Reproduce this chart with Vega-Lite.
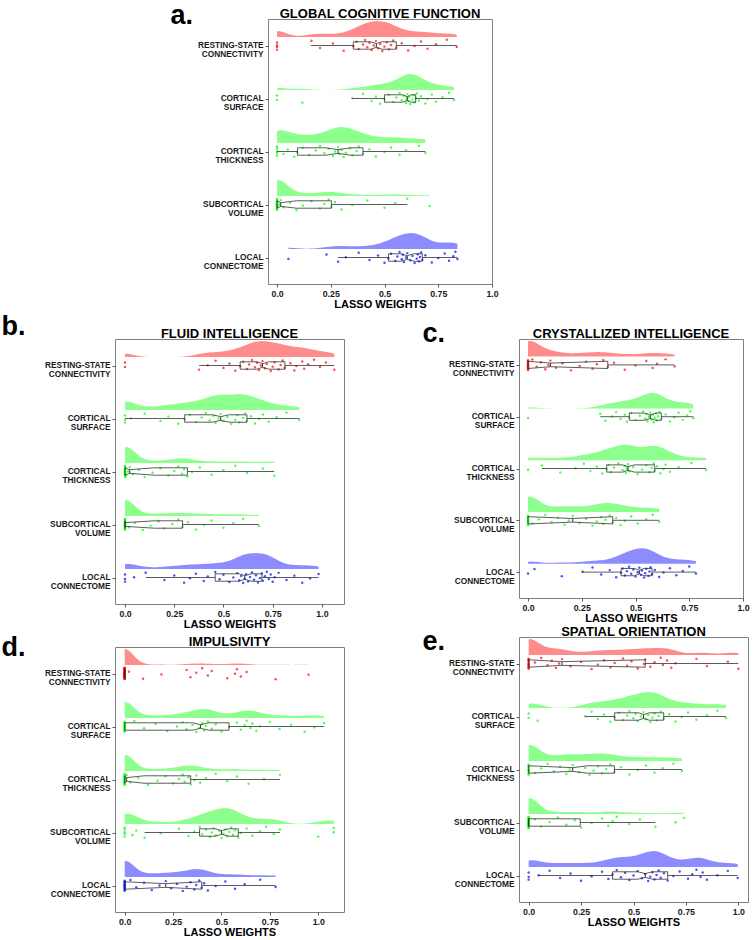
{
"$schema": "https://vega.github.io/schema/vega-lite/v6.json",
"padding": {"left": 0, "top": 0, "right": 0, "bottom": 0},
"background": "white",
"config": {
 "font": "Liberation Sans",
 "view": {"stroke": "#7f7f7f", "strokeWidth": 1},
 "axis": {"grid": false, "domain": false, "tickSize": 3, "tickColor": "#333", "tickWidth": 0.8, "labelFont": "Liberation Sans", "labelFontWeight": "bold", "labelColor": "#1a1a1a", "titleFont": "Liberation Sans", "titleFontWeight": "bold", "titleColor": "#000", "labelFlush": false, "labelOverlap": false},
 "axisX": {"labelFontSize": 8.8, "labelPadding": 2, "titleFontSize": 11, "titlePadding": 1},
 "axisY": {"labelFontSize": 8.3, "labelPadding": 2, "labelLineHeight": 9, "titleFontSize": 27, "titleAngle": 0, "titleAlign": "left", "titleBaseline": "alphabetic"},
 "title": {"fontSize": 13, "fontWeight": "bold", "color": "#000", "offset": 3, "anchor": "middle", "frame": "group", "font": "Liberation Sans"}
},
"datasets": {
"a": [
{"c":"RS","v":0},{"c":"RS","v":0},{"c":"RS","v":0},{"c":"RS","v":0},{"c":"RS","v":0.16},{"c":"RS","v":0.2},{"c":"RS","v":0.26},{"c":"RS","v":0.31},{"c":"RS","v":0.355},{"c":"RS","v":0.37},{"c":"RS","v":0.38},{"c":"RS","v":0.4},{"c":"RS","v":0.41},{"c":"RS","v":0.42},{"c":"RS","v":0.43},{"c":"RS","v":0.44},{"c":"RS","v":0.45},{"c":"RS","v":0.46},{"c":"RS","v":0.47},{"c":"RS","v":0.48},{"c":"RS","v":0.49},{"c":"RS","v":0.5},{"c":"RS","v":0.51},{"c":"RS","v":0.52},{"c":"RS","v":0.53},{"c":"RS","v":0.54},{"c":"RS","v":0.555},{"c":"RS","v":0.58},{"c":"RS","v":0.61},{"c":"RS","v":0.64},{"c":"RS","v":0.67},{"c":"RS","v":0.7},{"c":"RS","v":0.74},{"c":"RS","v":0.79},{"c":"RS","v":0.836},
{"c":"CS","v":0},{"c":"CS","v":0},{"c":"CS","v":0.118},{"c":"CS","v":0.35},{"c":"CS","v":0.4},{"c":"CS","v":0.44},{"c":"CS","v":0.46},{"c":"CS","v":0.48},{"c":"CS","v":0.5},{"c":"CS","v":0.52},{"c":"CS","v":0.54},{"c":"CS","v":0.555},{"c":"CS","v":0.57},{"c":"CS","v":0.58},{"c":"CS","v":0.59},{"c":"CS","v":0.6},{"c":"CS","v":0.603},{"c":"CS","v":0.606},{"c":"CS","v":0.61},{"c":"CS","v":0.615},{"c":"CS","v":0.62},{"c":"CS","v":0.63},{"c":"CS","v":0.635},{"c":"CS","v":0.64},{"c":"CS","v":0.645},{"c":"CS","v":0.65},{"c":"CS","v":0.66},{"c":"CS","v":0.67},{"c":"CS","v":0.69},{"c":"CS","v":0.7},{"c":"CS","v":0.72},{"c":"CS","v":0.74},{"c":"CS","v":0.77},{"c":"CS","v":0.8},{"c":"CS","v":0.823},
{"c":"CT","v":0},{"c":"CT","v":0},{"c":"CT","v":0},{"c":"CT","v":0},{"c":"CT","v":0},{"c":"CT","v":0.03},{"c":"CT","v":0.05},{"c":"CT","v":0.08},{"c":"CT","v":0.095},{"c":"CT","v":0.12},{"c":"CT","v":0.15},{"c":"CT","v":0.18},{"c":"CT","v":0.2},{"c":"CT","v":0.22},{"c":"CT","v":0.24},{"c":"CT","v":0.26},{"c":"CT","v":0.27},{"c":"CT","v":0.284},{"c":"CT","v":0.29},{"c":"CT","v":0.3},{"c":"CT","v":0.31},{"c":"CT","v":0.32},{"c":"CT","v":0.34},{"c":"CT","v":0.35},{"c":"CT","v":0.37},{"c":"CT","v":0.38},{"c":"CT","v":0.4},{"c":"CT","v":0.43},{"c":"CT","v":0.46},{"c":"CT","v":0.5},{"c":"CT","v":0.53},{"c":"CT","v":0.57},{"c":"CT","v":0.6},{"c":"CT","v":0.66},{"c":"CT","v":0.69},
{"c":"SV","v":0},{"c":"SV","v":0},{"c":"SV","v":0},{"c":"SV","v":0},{"c":"SV","v":0},{"c":"SV","v":0},{"c":"SV","v":0},{"c":"SV","v":0},{"c":"SV","v":0},{"c":"SV","v":0},{"c":"SV","v":0},{"c":"SV","v":0},{"c":"SV","v":0},{"c":"SV","v":0},{"c":"SV","v":0},{"c":"SV","v":0},{"c":"SV","v":0.01},{"c":"SV","v":0.017},{"c":"SV","v":0.03},{"c":"SV","v":0.06},{"c":"SV","v":0.09},{"c":"SV","v":0.12},{"c":"SV","v":0.16},{"c":"SV","v":0.2},{"c":"SV","v":0.22},{"c":"SV","v":0.24},{"c":"SV","v":0.253},{"c":"SV","v":0.27},{"c":"SV","v":0.3},{"c":"SV","v":0.35},{"c":"SV","v":0.42},{"c":"SV","v":0.5},{"c":"SV","v":0.55},{"c":"SV","v":0.606},{"c":"SV","v":0.71},
{"c":"LC","v":0.053},{"c":"LC","v":0.23},{"c":"LC","v":0.284},{"c":"LC","v":0.32},{"c":"LC","v":0.38},{"c":"LC","v":0.43},{"c":"LC","v":0.47},{"c":"LC","v":0.5},{"c":"LC","v":0.518},{"c":"LC","v":0.53},{"c":"LC","v":0.55},{"c":"LC","v":0.56},{"c":"LC","v":0.57},{"c":"LC","v":0.58},{"c":"LC","v":0.585},{"c":"LC","v":0.59},{"c":"LC","v":0.6},{"c":"LC","v":0.606},{"c":"LC","v":0.62},{"c":"LC","v":0.63},{"c":"LC","v":0.64},{"c":"LC","v":0.65},{"c":"LC","v":0.655},{"c":"LC","v":0.66},{"c":"LC","v":0.665},{"c":"LC","v":0.67},{"c":"LC","v":0.676},{"c":"LC","v":0.69},{"c":"LC","v":0.72},{"c":"LC","v":0.75},{"c":"LC","v":0.78},{"c":"LC","v":0.8},{"c":"LC","v":0.82},{"c":"LC","v":0.83},{"c":"LC","v":0.839}
],
"b": [
{"c":"RS","v":0},{"c":"RS","v":0},{"c":"RS","v":0.376},{"c":"RS","v":0.42},{"c":"RS","v":0.46},{"c":"RS","v":0.5},{"c":"RS","v":0.53},{"c":"RS","v":0.56},{"c":"RS","v":0.585},{"c":"RS","v":0.6},{"c":"RS","v":0.62},{"c":"RS","v":0.63},{"c":"RS","v":0.645},{"c":"RS","v":0.66},{"c":"RS","v":0.67},{"c":"RS","v":0.68},{"c":"RS","v":0.69},{"c":"RS","v":0.698},{"c":"RS","v":0.71},{"c":"RS","v":0.72},{"c":"RS","v":0.74},{"c":"RS","v":0.75},{"c":"RS","v":0.76},{"c":"RS","v":0.78},{"c":"RS","v":0.79},{"c":"RS","v":0.8},{"c":"RS","v":0.812},{"c":"RS","v":0.84},{"c":"RS","v":0.86},{"c":"RS","v":0.87},{"c":"RS","v":0.9},{"c":"RS","v":0.91},{"c":"RS","v":0.93},{"c":"RS","v":0.96},{"c":"RS","v":0.99},{"c":"RS","v":1.02},{"c":"RS","v":1.063},
{"c":"CS","v":0},{"c":"CS","v":0},{"c":"CS","v":0},{"c":"CS","v":0.03},{"c":"CS","v":0.1},{"c":"CS","v":0.18},{"c":"CS","v":0.22},{"c":"CS","v":0.27},{"c":"CS","v":0.303},{"c":"CS","v":0.33},{"c":"CS","v":0.36},{"c":"CS","v":0.39},{"c":"CS","v":0.41},{"c":"CS","v":0.43},{"c":"CS","v":0.45},{"c":"CS","v":0.46},{"c":"CS","v":0.475},{"c":"CS","v":0.486},{"c":"CS","v":0.5},{"c":"CS","v":0.52},{"c":"CS","v":0.54},{"c":"CS","v":0.56},{"c":"CS","v":0.57},{"c":"CS","v":0.58},{"c":"CS","v":0.6},{"c":"CS","v":0.61},{"c":"CS","v":0.619},{"c":"CS","v":0.64},{"c":"CS","v":0.66},{"c":"CS","v":0.68},{"c":"CS","v":0.7},{"c":"CS","v":0.73},{"c":"CS","v":0.77},{"c":"CS","v":0.82},{"c":"CS","v":0.885},
{"c":"CT","v":0},{"c":"CT","v":0},{"c":"CT","v":0},{"c":"CT","v":0},{"c":"CT","v":0},{"c":"CT","v":0},{"c":"CT","v":0},{"c":"CT","v":0},{"c":"CT","v":0},{"c":"CT","v":0},{"c":"CT","v":0},{"c":"CT","v":0},{"c":"CT","v":0},{"c":"CT","v":0},{"c":"CT","v":0},{"c":"CT","v":0.005},{"c":"CT","v":0.015},{"c":"CT","v":0.024},{"c":"CT","v":0.04},{"c":"CT","v":0.07},{"c":"CT","v":0.1},{"c":"CT","v":0.14},{"c":"CT","v":0.18},{"c":"CT","v":0.22},{"c":"CT","v":0.25},{"c":"CT","v":0.27},{"c":"CT","v":0.29},{"c":"CT","v":0.3},{"c":"CT","v":0.317},{"c":"CT","v":0.34},{"c":"CT","v":0.38},{"c":"CT","v":0.44},{"c":"CT","v":0.5},{"c":"CT","v":0.56},{"c":"CT","v":0.62},{"c":"CT","v":0.7},{"c":"CT","v":0.758},
{"c":"SV","v":0},{"c":"SV","v":0},{"c":"SV","v":0},{"c":"SV","v":0},{"c":"SV","v":0},{"c":"SV","v":0},{"c":"SV","v":0},{"c":"SV","v":0},{"c":"SV","v":0},{"c":"SV","v":0},{"c":"SV","v":0},{"c":"SV","v":0},{"c":"SV","v":0},{"c":"SV","v":0},{"c":"SV","v":0},{"c":"SV","v":0},{"c":"SV","v":0},{"c":"SV","v":0},{"c":"SV","v":0.02},{"c":"SV","v":0.05},{"c":"SV","v":0.09},{"c":"SV","v":0.13},{"c":"SV","v":0.17},{"c":"SV","v":0.2},{"c":"SV","v":0.24},{"c":"SV","v":0.27},{"c":"SV","v":0.292},{"c":"SV","v":0.32},{"c":"SV","v":0.36},{"c":"SV","v":0.4},{"c":"SV","v":0.44},{"c":"SV","v":0.5},{"c":"SV","v":0.55},{"c":"SV","v":0.6},{"c":"SV","v":0.68},
{"c":"LC","v":0},{"c":"LC","v":0},{"c":"LC","v":0},{"c":"LC","v":0.046},{"c":"LC","v":0.105},{"c":"LC","v":0.2},{"c":"LC","v":0.25},{"c":"LC","v":0.3},{"c":"LC","v":0.33},{"c":"LC","v":0.36},{"c":"LC","v":0.4},{"c":"LC","v":0.42},{"c":"LC","v":0.458},{"c":"LC","v":0.48},{"c":"LC","v":0.5},{"c":"LC","v":0.53},{"c":"LC","v":0.55},{"c":"LC","v":0.57},{"c":"LC","v":0.58},{"c":"LC","v":0.59},{"c":"LC","v":0.6},{"c":"LC","v":0.608},{"c":"LC","v":0.615},{"c":"LC","v":0.625},{"c":"LC","v":0.635},{"c":"LC","v":0.645},{"c":"LC","v":0.655},{"c":"LC","v":0.665},{"c":"LC","v":0.675},{"c":"LC","v":0.685},{"c":"LC","v":0.695},{"c":"LC","v":0.7},{"c":"LC","v":0.71},{"c":"LC","v":0.72},{"c":"LC","v":0.73},{"c":"LC","v":0.74},{"c":"LC","v":0.75},{"c":"LC","v":0.76},{"c":"LC","v":0.78},{"c":"LC","v":0.82},{"c":"LC","v":0.86},{"c":"LC","v":0.9},{"c":"LC","v":0.94},{"c":"LC","v":0.983}
],
"c": [
{"c":"RS","v":0},{"c":"RS","v":0},{"c":"RS","v":0},{"c":"RS","v":0},{"c":"RS","v":0},{"c":"RS","v":0},{"c":"RS","v":0},{"c":"RS","v":0},{"c":"RS","v":0},{"c":"RS","v":0},{"c":"RS","v":0},{"c":"RS","v":0},{"c":"RS","v":0.02},{"c":"RS","v":0.04},{"c":"RS","v":0.06},{"c":"RS","v":0.08},{"c":"RS","v":0.095},{"c":"RS","v":0.104},{"c":"RS","v":0.13},{"c":"RS","v":0.16},{"c":"RS","v":0.2},{"c":"RS","v":0.24},{"c":"RS","v":0.27},{"c":"RS","v":0.3},{"c":"RS","v":0.32},{"c":"RS","v":0.35},{"c":"RS","v":0.371},{"c":"RS","v":0.4},{"c":"RS","v":0.45},{"c":"RS","v":0.5},{"c":"RS","v":0.55},{"c":"RS","v":0.58},{"c":"RS","v":0.6},{"c":"RS","v":0.64},{"c":"RS","v":0.682},
{"c":"CS","v":0},{"c":"CS","v":0.336},{"c":"CS","v":0.36},{"c":"CS","v":0.39},{"c":"CS","v":0.41},{"c":"CS","v":0.43},{"c":"CS","v":0.45},{"c":"CS","v":0.46},{"c":"CS","v":0.471},{"c":"CS","v":0.48},{"c":"CS","v":0.5},{"c":"CS","v":0.52},{"c":"CS","v":0.535},{"c":"CS","v":0.545},{"c":"CS","v":0.55},{"c":"CS","v":0.555},{"c":"CS","v":0.562},{"c":"CS","v":0.569},{"c":"CS","v":0.575},{"c":"CS","v":0.58},{"c":"CS","v":0.585},{"c":"CS","v":0.59},{"c":"CS","v":0.595},{"c":"CS","v":0.6},{"c":"CS","v":0.605},{"c":"CS","v":0.612},{"c":"CS","v":0.62},{"c":"CS","v":0.64},{"c":"CS","v":0.66},{"c":"CS","v":0.68},{"c":"CS","v":0.7},{"c":"CS","v":0.72},{"c":"CS","v":0.74},{"c":"CS","v":0.755},{"c":"CS","v":0.769},
{"c":"CT","v":0},{"c":"CT","v":0.065},{"c":"CT","v":0.15},{"c":"CT","v":0.22},{"c":"CT","v":0.26},{"c":"CT","v":0.29},{"c":"CT","v":0.32},{"c":"CT","v":0.345},{"c":"CT","v":0.366},{"c":"CT","v":0.375},{"c":"CT","v":0.385},{"c":"CT","v":0.4},{"c":"CT","v":0.42},{"c":"CT","v":0.44},{"c":"CT","v":0.45},{"c":"CT","v":0.455},{"c":"CT","v":0.46},{"c":"CT","v":0.465},{"c":"CT","v":0.47},{"c":"CT","v":0.49},{"c":"CT","v":0.51},{"c":"CT","v":0.53},{"c":"CT","v":0.55},{"c":"CT","v":0.565},{"c":"CT","v":0.575},{"c":"CT","v":0.585},{"c":"CT","v":0.589},{"c":"CT","v":0.6},{"c":"CT","v":0.615},{"c":"CT","v":0.63},{"c":"CT","v":0.64},{"c":"CT","v":0.66},{"c":"CT","v":0.7},{"c":"CT","v":0.76},{"c":"CT","v":0.828},
{"c":"SV","v":0},{"c":"SV","v":0},{"c":"SV","v":0},{"c":"SV","v":0},{"c":"SV","v":0},{"c":"SV","v":0},{"c":"SV","v":0},{"c":"SV","v":0},{"c":"SV","v":0},{"c":"SV","v":0},{"c":"SV","v":0.02},{"c":"SV","v":0.05},{"c":"SV","v":0.08},{"c":"SV","v":0.11},{"c":"SV","v":0.14},{"c":"SV","v":0.17},{"c":"SV","v":0.19},{"c":"SV","v":0.208},{"c":"SV","v":0.24},{"c":"SV","v":0.27},{"c":"SV","v":0.3},{"c":"SV","v":0.32},{"c":"SV","v":0.34},{"c":"SV","v":0.35},{"c":"SV","v":0.36},{"c":"SV","v":0.38},{"c":"SV","v":0.394},{"c":"SV","v":0.41},{"c":"SV","v":0.43},{"c":"SV","v":0.45},{"c":"SV","v":0.48},{"c":"SV","v":0.51},{"c":"SV","v":0.55},{"c":"SV","v":0.58},{"c":"SV","v":0.61},
{"c":"LC","v":0},{"c":"LC","v":0.03},{"c":"LC","v":0.157},{"c":"LC","v":0.254},{"c":"LC","v":0.3},{"c":"LC","v":0.34},{"c":"LC","v":0.38},{"c":"LC","v":0.41},{"c":"LC","v":0.433},{"c":"LC","v":0.44},{"c":"LC","v":0.45},{"c":"LC","v":0.46},{"c":"LC","v":0.47},{"c":"LC","v":0.48},{"c":"LC","v":0.49},{"c":"LC","v":0.5},{"c":"LC","v":0.51},{"c":"LC","v":0.518},{"c":"LC","v":0.525},{"c":"LC","v":0.53},{"c":"LC","v":0.54},{"c":"LC","v":0.545},{"c":"LC","v":0.55},{"c":"LC","v":0.56},{"c":"LC","v":0.565},{"c":"LC","v":0.57},{"c":"LC","v":0.577},{"c":"LC","v":0.59},{"c":"LC","v":0.61},{"c":"LC","v":0.63},{"c":"LC","v":0.66},{"c":"LC","v":0.69},{"c":"LC","v":0.72},{"c":"LC","v":0.75},{"c":"LC","v":0.781}
],
"d": [
{"c":"RS","v":0},{"c":"RS","v":0},{"c":"RS","v":0},{"c":"RS","v":0},{"c":"RS","v":0},{"c":"RS","v":0},{"c":"RS","v":0},{"c":"RS","v":0},{"c":"RS","v":0},{"c":"RS","v":0},{"c":"RS","v":0},{"c":"RS","v":0},{"c":"RS","v":0},{"c":"RS","v":0},{"c":"RS","v":0},{"c":"RS","v":0},{"c":"RS","v":0},{"c":"RS","v":0},{"c":"RS","v":0},{"c":"RS","v":0},{"c":"RS","v":0},{"c":"RS","v":0},{"c":"RS","v":0},{"c":"RS","v":0},{"c":"RS","v":0},{"c":"RS","v":0},{"c":"RS","v":0},{"c":"RS","v":0},{"c":"RS","v":0},{"c":"RS","v":0},{"c":"RS","v":0},{"c":"RS","v":0},{"c":"RS","v":0},{"c":"RS","v":0},{"c":"RS","v":0},{"c":"RS","v":0},{"c":"RS","v":0},{"c":"RS","v":0},{"c":"RS","v":0},{"c":"RS","v":0},{"c":"RS","v":0.022},{"c":"RS","v":0.095},{"c":"RS","v":0.19},{"c":"RS","v":0.32},{"c":"RS","v":0.34},{"c":"RS","v":0.37},{"c":"RS","v":0.4},{"c":"RS","v":0.43},{"c":"RS","v":0.45},{"c":"RS","v":0.53},{"c":"RS","v":0.57},{"c":"RS","v":0.58},{"c":"RS","v":0.6},{"c":"RS","v":0.63},{"c":"RS","v":0.78},{"c":"RS","v":0.95},
{"c":"CS","v":0},{"c":"CS","v":0},{"c":"CS","v":0},{"c":"CS","v":0},{"c":"CS","v":0},{"c":"CS","v":0},{"c":"CS","v":0},{"c":"CS","v":0},{"c":"CS","v":0},{"c":"CS","v":0},{"c":"CS","v":0},{"c":"CS","v":0},{"c":"CS","v":0.05},{"c":"CS","v":0.1},{"c":"CS","v":0.16},{"c":"CS","v":0.22},{"c":"CS","v":0.27},{"c":"CS","v":0.3},{"c":"CS","v":0.32},{"c":"CS","v":0.35},{"c":"CS","v":0.37},{"c":"CS","v":0.385},{"c":"CS","v":0.4},{"c":"CS","v":0.41},{"c":"CS","v":0.42},{"c":"CS","v":0.43},{"c":"CS","v":0.45},{"c":"CS","v":0.47},{"c":"CS","v":0.5},{"c":"CS","v":0.539},{"c":"CS","v":0.58},{"c":"CS","v":0.6},{"c":"CS","v":0.62},{"c":"CS","v":0.63},{"c":"CS","v":0.65},{"c":"CS","v":0.66},{"c":"CS","v":0.68},{"c":"CS","v":0.7},{"c":"CS","v":0.75},{"c":"CS","v":0.8},{"c":"CS","v":0.86},{"c":"CS","v":0.93},{"c":"CS","v":0.98},{"c":"CS","v":1.03},
{"c":"CT","v":0},{"c":"CT","v":0},{"c":"CT","v":0},{"c":"CT","v":0},{"c":"CT","v":0},{"c":"CT","v":0},{"c":"CT","v":0},{"c":"CT","v":0},{"c":"CT","v":0},{"c":"CT","v":0},{"c":"CT","v":0},{"c":"CT","v":0},{"c":"CT","v":0},{"c":"CT","v":0},{"c":"CT","v":0},{"c":"CT","v":0},{"c":"CT","v":0},{"c":"CT","v":0.01},{"c":"CT","v":0.03},{"c":"CT","v":0.07},{"c":"CT","v":0.12},{"c":"CT","v":0.17},{"c":"CT","v":0.21},{"c":"CT","v":0.25},{"c":"CT","v":0.28},{"c":"CT","v":0.3},{"c":"CT","v":0.31},{"c":"CT","v":0.33},{"c":"CT","v":0.341},{"c":"CT","v":0.36},{"c":"CT","v":0.37},{"c":"CT","v":0.39},{"c":"CT","v":0.42},{"c":"CT","v":0.47},{"c":"CT","v":0.53},{"c":"CT","v":0.58},{"c":"CT","v":0.64},{"c":"CT","v":0.72},{"c":"CT","v":0.802},
{"c":"SV","v":0},{"c":"SV","v":0},{"c":"SV","v":0},{"c":"SV","v":0},{"c":"SV","v":0},{"c":"SV","v":0.04},{"c":"SV","v":0.06},{"c":"SV","v":0.103},{"c":"SV","v":0.186},{"c":"SV","v":0.28},{"c":"SV","v":0.33},{"c":"SV","v":0.36},{"c":"SV","v":0.387},{"c":"SV","v":0.4},{"c":"SV","v":0.42},{"c":"SV","v":0.44},{"c":"SV","v":0.45},{"c":"SV","v":0.46},{"c":"SV","v":0.47},{"c":"SV","v":0.49},{"c":"SV","v":0.5},{"c":"SV","v":0.51},{"c":"SV","v":0.52},{"c":"SV","v":0.53},{"c":"SV","v":0.54},{"c":"SV","v":0.55},{"c":"SV","v":0.56},{"c":"SV","v":0.57},{"c":"SV","v":0.587},{"c":"SV","v":0.6},{"c":"SV","v":0.63},{"c":"SV","v":0.66},{"c":"SV","v":0.7},{"c":"SV","v":0.73},{"c":"SV","v":0.77},{"c":"SV","v":0.802},{"c":"SV","v":1.0},{"c":"SV","v":1.08},{"c":"SV","v":1.08},
{"c":"LC","v":0},{"c":"LC","v":0},{"c":"LC","v":0},{"c":"LC","v":0},{"c":"LC","v":0},{"c":"LC","v":0},{"c":"LC","v":0},{"c":"LC","v":0},{"c":"LC","v":0},{"c":"LC","v":0},{"c":"LC","v":0},{"c":"LC","v":0},{"c":"LC","v":0.03},{"c":"LC","v":0.06},{"c":"LC","v":0.1},{"c":"LC","v":0.14},{"c":"LC","v":0.18},{"c":"LC","v":0.212},{"c":"LC","v":0.24},{"c":"LC","v":0.27},{"c":"LC","v":0.3},{"c":"LC","v":0.32},{"c":"LC","v":0.34},{"c":"LC","v":0.36},{"c":"LC","v":0.37},{"c":"LC","v":0.385},{"c":"LC","v":0.398},{"c":"LC","v":0.41},{"c":"LC","v":0.43},{"c":"LC","v":0.47},{"c":"LC","v":0.52},{"c":"LC","v":0.57},{"c":"LC","v":0.62},{"c":"LC","v":0.7},{"c":"LC","v":0.78}
],
"e": [
{"c":"RS","v":0},{"c":"RS","v":0},{"c":"RS","v":0},{"c":"RS","v":0},{"c":"RS","v":0},{"c":"RS","v":0},{"c":"RS","v":0},{"c":"RS","v":0},{"c":"RS","v":0},{"c":"RS","v":0},{"c":"RS","v":0},{"c":"RS","v":0.03},{"c":"RS","v":0.06},{"c":"RS","v":0.09},{"c":"RS","v":0.11},{"c":"RS","v":0.13},{"c":"RS","v":0.145},{"c":"RS","v":0.159},{"c":"RS","v":0.2},{"c":"RS","v":0.25},{"c":"RS","v":0.3},{"c":"RS","v":0.33},{"c":"RS","v":0.36},{"c":"RS","v":0.39},{"c":"RS","v":0.41},{"c":"RS","v":0.45},{"c":"RS","v":0.47},{"c":"RS","v":0.49},{"c":"RS","v":0.52},{"c":"RS","v":0.55},{"c":"RS","v":0.556},{"c":"RS","v":0.58},{"c":"RS","v":0.6},{"c":"RS","v":0.63},{"c":"RS","v":0.64},{"c":"RS","v":0.66},{"c":"RS","v":0.68},{"c":"RS","v":0.7},{"c":"RS","v":0.8},{"c":"RS","v":0.85},{"c":"RS","v":0.95},{"c":"RS","v":1.0},
{"c":"CS","v":0},{"c":"CS","v":0},{"c":"CS","v":0.043},{"c":"CS","v":0.269},{"c":"CS","v":0.3},{"c":"CS","v":0.33},{"c":"CS","v":0.36},{"c":"CS","v":0.39},{"c":"CS","v":0.41},{"c":"CS","v":0.43},{"c":"CS","v":0.45},{"c":"CS","v":0.47},{"c":"CS","v":0.48},{"c":"CS","v":0.5},{"c":"CS","v":0.51},{"c":"CS","v":0.52},{"c":"CS","v":0.535},{"c":"CS","v":0.548},{"c":"CS","v":0.56},{"c":"CS","v":0.57},{"c":"CS","v":0.58},{"c":"CS","v":0.59},{"c":"CS","v":0.6},{"c":"CS","v":0.61},{"c":"CS","v":0.62},{"c":"CS","v":0.63},{"c":"CS","v":0.644},{"c":"CS","v":0.67},{"c":"CS","v":0.7},{"c":"CS","v":0.73},{"c":"CS","v":0.76},{"c":"CS","v":0.8},{"c":"CS","v":0.85},{"c":"CS","v":0.9},{"c":"CS","v":0.941},
{"c":"CT","v":0},{"c":"CT","v":0},{"c":"CT","v":0},{"c":"CT","v":0},{"c":"CT","v":0},{"c":"CT","v":0},{"c":"CT","v":0},{"c":"CT","v":0},{"c":"CT","v":0},{"c":"CT","v":0},{"c":"CT","v":0.03},{"c":"CT","v":0.06},{"c":"CT","v":0.09},{"c":"CT","v":0.12},{"c":"CT","v":0.15},{"c":"CT","v":0.18},{"c":"CT","v":0.195},{"c":"CT","v":0.21},{"c":"CT","v":0.24},{"c":"CT","v":0.27},{"c":"CT","v":0.29},{"c":"CT","v":0.31},{"c":"CT","v":0.33},{"c":"CT","v":0.35},{"c":"CT","v":0.37},{"c":"CT","v":0.39},{"c":"CT","v":0.409},{"c":"CT","v":0.44},{"c":"CT","v":0.48},{"c":"CT","v":0.52},{"c":"CT","v":0.56},{"c":"CT","v":0.6},{"c":"CT","v":0.64},{"c":"CT","v":0.69},{"c":"CT","v":0.731},
{"c":"SV","v":0},{"c":"SV","v":0},{"c":"SV","v":0},{"c":"SV","v":0},{"c":"SV","v":0},{"c":"SV","v":0},{"c":"SV","v":0},{"c":"SV","v":0},{"c":"SV","v":0},{"c":"SV","v":0},{"c":"SV","v":0},{"c":"SV","v":0},{"c":"SV","v":0},{"c":"SV","v":0},{"c":"SV","v":0},{"c":"SV","v":0},{"c":"SV","v":0},{"c":"SV","v":0},{"c":"SV","v":0},{"c":"SV","v":0},{"c":"SV","v":0},{"c":"SV","v":0},{"c":"SV","v":0.03},{"c":"SV","v":0.06},{"c":"SV","v":0.1},{"c":"SV","v":0.14},{"c":"SV","v":0.18},{"c":"SV","v":0.22},{"c":"SV","v":0.25},{"c":"SV","v":0.3},{"c":"SV","v":0.35},{"c":"SV","v":0.38},{"c":"SV","v":0.4},{"c":"SV","v":0.42},{"c":"SV","v":0.48},{"c":"SV","v":0.53},{"c":"SV","v":0.604},{"c":"SV","v":0.7},{"c":"SV","v":0.74},
{"c":"LC","v":0},{"c":"LC","v":0},{"c":"LC","v":0},{"c":"LC","v":0.048},{"c":"LC","v":0.1},{"c":"LC","v":0.15},{"c":"LC","v":0.2},{"c":"LC","v":0.25},{"c":"LC","v":0.3},{"c":"LC","v":0.35},{"c":"LC","v":0.38},{"c":"LC","v":0.4},{"c":"LC","v":0.42},{"c":"LC","v":0.44},{"c":"LC","v":0.46},{"c":"LC","v":0.48},{"c":"LC","v":0.5},{"c":"LC","v":0.52},{"c":"LC","v":0.54},{"c":"LC","v":0.556},{"c":"LC","v":0.57},{"c":"LC","v":0.58},{"c":"LC","v":0.59},{"c":"LC","v":0.6},{"c":"LC","v":0.61},{"c":"LC","v":0.62},{"c":"LC","v":0.63},{"c":"LC","v":0.645},{"c":"LC","v":0.663},{"c":"LC","v":0.69},{"c":"LC","v":0.72},{"c":"LC","v":0.76},{"c":"LC","v":0.78},{"c":"LC","v":0.8},{"c":"LC","v":0.82},{"c":"LC","v":0.83},{"c":"LC","v":0.85},{"c":"LC","v":0.9},{"c":"LC","v":0.95},{"c":"LC","v":0.997}
],
"box": [
{"p":"a","c":"RS","lo":0.157,"q1":0.355,"nl":0.436,"md":0.462,"nu":0.488,"q3":0.555,"hi":0.836},
{"p":"a","c":"CS","lo":0.35,"q1":0.5,"nl":0.583,"md":0.606,"nu":0.625,"q3":0.645,"hi":0.823},
{"p":"a","c":"CT","lo":0,"q1":0.095,"nl":0.226,"md":0.284,"nu":0.343,"q3":0.4,"hi":0.69},
{"p":"a","c":"SV","lo":0,"q1":0,"nl":0,"md":0.017,"nu":0.09,"q3":0.253,"hi":0.606},
{"p":"a","c":"LC","lo":0.284,"q1":0.518,"nl":0.575,"md":0.606,"nu":0.637,"q3":0.676,"hi":0.839},
{"p":"b","c":"RS","lo":0.376,"q1":0.585,"nl":0.67,"md":0.698,"nu":0.73,"q3":0.812,"hi":1.063},
{"p":"b","c":"CS","lo":0,"q1":0.303,"nl":0.444,"md":0.486,"nu":0.529,"q3":0.619,"hi":0.885},
{"p":"b","c":"CT","lo":0,"q1":0,"nl":0,"md":0.024,"nu":0.15,"q3":0.317,"hi":0.758},
{"p":"b","c":"SV","lo":0,"q1":0,"nl":0,"md":0,"nu":0.15,"q3":0.292,"hi":0.678},
{"p":"b","c":"LC","lo":0.105,"q1":0.458,"nl":0.58,"md":0.608,"nu":0.64,"q3":0.695,"hi":0.983},
{"p":"c","c":"RS","lo":0,"q1":0,"nl":0,"md":0.104,"nu":0.371,"q3":0.371,"hi":0.682},
{"p":"c","c":"CS","lo":0.336,"q1":0.471,"nl":0.54,"md":0.569,"nu":0.595,"q3":0.62,"hi":0.769},
{"p":"c","c":"CT","lo":0.065,"q1":0.366,"nl":0.44,"md":0.465,"nu":0.495,"q3":0.589,"hi":0.828},
{"p":"c","c":"SV","lo":0,"q1":0,"nl":0,"md":0.208,"nu":0.394,"q3":0.394,"hi":0.61},
{"p":"c","c":"LC","lo":0.254,"q1":0.433,"nl":0.495,"md":0.518,"nu":0.54,"q3":0.577,"hi":0.781},
{"p":"d","c":"RS","lo":0,"q1":0,"nl":0,"md":0,"nu":0,"q3":0,"hi":0},
{"p":"d","c":"CS","lo":0,"q1":0,"nl":0.35,"md":0.392,"nu":0.435,"q3":0.539,"hi":1.03},
{"p":"d","c":"CT","lo":0,"q1":0,"nl":0,"md":0.01,"nu":0.1,"q3":0.341,"hi":0.802},
{"p":"d","c":"SV","lo":0.103,"q1":0.387,"nl":0.47,"md":0.5,"nu":0.54,"q3":0.587,"hi":0.802},
{"p":"d","c":"LC","lo":0,"q1":0,"nl":0,"md":0.212,"nu":0.398,"q3":0.398,"hi":0.78},
{"p":"e","c":"RS","lo":0,"q1":0,"nl":0,"md":0.159,"nu":0.556,"q3":0.556,"hi":1.0},
{"p":"e","c":"CS","lo":0.269,"q1":0.41,"nl":0.523,"md":0.548,"nu":0.575,"q3":0.644,"hi":0.941},
{"p":"e","c":"CT","lo":0,"q1":0,"nl":0,"md":0.21,"nu":0.28,"q3":0.409,"hi":0.731},
{"p":"e","c":"SV","lo":0,"q1":0,"nl":0,"md":0,"nu":0,"q3":0.246,"hi":0.604},
{"p":"e","c":"LC","lo":0.048,"q1":0.4,"nl":0.52,"md":0.556,"nu":0.59,"q3":0.663,"hi":0.997}
]
},
"spacing": 0,
"vconcat": [
{"spacing": 4, "align": "none", "hconcat": [
 {"width": 50, "height": 5, "data": {"values": []}, "mark": "point", "encoding": {}, "view": {"stroke": null}},
 {"width": 224, "height": 265, "title": {"text": "GLOBAL COGNITIVE FUNCTION", "dy": 23},
  "layer": [
   {"data": {"name": "a"},
    "transform": [
     {"density": "v", "groupby": ["c"], "bandwidth": 0.045, "steps": 120, "resolve": "independent", "as": ["v", "d"]},
     {"joinaggregate": [{"op": "max", "field": "d", "as": "dm"}], "groupby": ["c"]},
     {"calculate": "indexof(['RS','CS','CT','SV','LC'], datum.c) + 1", "as": "k"},
     {"calculate": "datum.k - 0.16", "as": "y0"},
     {"calculate": "datum.k - 0.16 - 0.3 * datum.d / datum.dm", "as": "y1"}
    ],
    "mark": {"type": "area", "orient": "vertical", "fillOpacity": 0.45},
    "encoding": {
     "x": {"field": "v", "type": "quantitative", "scale": {"domain": [-0.042, 1.0], "nice": false, "zero": false}, "axis": {"title": "LASSO WEIGHTS", "values": [0, 0.25, 0.5, 0.75, 1], "labelExpr": "['0.0','0.25','0.5','0.75','1.0'][round(datum.value * 4)]"}},
     "y": {"field": "y1", "type": "quantitative", "scale": {"domain": [0.5, 5.5], "reverse": true, "nice": false, "zero": false}, "axis": {"title": "a.", "titleX": -98, "titleY": 4, "values": [1, 2, 3, 4, 5], "labelExpr": "[['RESTING-STATE','CONNECTIVITY'],['CORTICAL','SURFACE'],['CORTICAL','THICKNESS'],['SUBCORTICAL','VOLUME'],['LOCAL','CONNECTOME']][datum.value - 1]"}},
     "y2": {"field": "y0"},
     "color": {"field": "c", "type": "nominal", "scale": {"domain": ["RS", "CS", "CT", "SV", "LC"], "range": ["#ff0000", "#00ff00", "#00ff00", "#00ff00", "#0000ff"]}, "legend": null}
    }},
   {"data": {"name": "a"},
    "transform": [
     {"window": [{"op": "row_number", "as": "i"}], "groupby": ["c"]},
     {"calculate": "indexof(['RS','CS','CT','SV','LC'], datum.c) + 1 + 0.11 * (2 * ((datum.i * 0.618034) % 1) - 1)", "as": "yj"}
    ],
    "mark": {"type": "circle", "size": 6, "opacity": 0.7},
    "encoding": {
     "x": {"field": "v", "type": "quantitative"},
     "y": {"field": "yj", "type": "quantitative"},
     "color": {"field": "c", "type": "nominal", "legend": null}
    }},
   {"data": {"name": "box"},
    "transform": [
     {"filter": "datum.p == 'a'"},
     {"calculate": "indexof(['RS','CS','CT','SV','LC'], datum.c) + 1", "as": "k"},
     {"calculate": "datum.k - 0.07", "as": "t0"},
     {"calculate": "datum.k + 0.07", "as": "b0"},
     {"calculate": "datum.k - 0.035", "as": "t1"},
     {"calculate": "datum.k + 0.035", "as": "b1"}
    ],
    "layer": [
     {"mark": {"type": "rule", "color": "#333", "strokeWidth": 0.8}, "encoding": {"x": {"field": "lo", "type": "quantitative"}, "x2": {"field": "q1"}, "y": {"field": "k", "type": "quantitative"}}},
     {"mark": {"type": "rule", "color": "#333", "strokeWidth": 0.8}, "encoding": {"x": {"field": "q3", "type": "quantitative"}, "x2": {"field": "hi"}, "y": {"field": "k", "type": "quantitative"}}},
     {"mark": {"type": "rule", "color": "#333", "strokeWidth": 0.8}, "encoding": {"x": {"field": "q1", "type": "quantitative"}, "y": {"field": "t0", "type": "quantitative"}, "y2": {"field": "b0"}}},
     {"mark": {"type": "rule", "color": "#333", "strokeWidth": 0.8}, "encoding": {"x": {"field": "q3", "type": "quantitative"}, "y": {"field": "t0", "type": "quantitative"}, "y2": {"field": "b0"}}},
     {"mark": {"type": "rule", "color": "#333", "strokeWidth": 1}, "encoding": {"x": {"field": "md", "type": "quantitative"}, "y": {"field": "t1", "type": "quantitative"}, "y2": {"field": "b1"}}}
    ]},
   {"data": {"name": "box"},
    "transform": [
     {"filter": "datum.p == 'a'"},
     {"calculate": "indexof(['RS','CS','CT','SV','LC'], datum.c) + 1", "as": "k"},
     {"fold": ["q1", "nl", "md", "nu", "q3"], "as": ["key", "xv"]},
     {"calculate": "indexof(['q1','nl','md','nu','q3'], datum.key)", "as": "o"},
     {"calculate": "datum.k - (datum.key == 'md' ? 0.035 : 0.07)", "as": "yt"},
     {"calculate": "datum.k + (datum.key == 'md' ? 0.035 : 0.07)", "as": "yb"}
    ],
    "layer": [
     {"mark": {"type": "line", "color": "#333", "strokeWidth": 0.8}, "encoding": {"x": {"field": "xv", "type": "quantitative"}, "y": {"field": "yt", "type": "quantitative"}, "order": {"field": "o", "type": "quantitative"}, "detail": {"field": "c", "type": "nominal"}}},
     {"mark": {"type": "line", "color": "#333", "strokeWidth": 0.8}, "encoding": {"x": {"field": "xv", "type": "quantitative"}, "y": {"field": "yb", "type": "quantitative"}, "order": {"field": "o", "type": "quantitative"}, "detail": {"field": "c", "type": "nominal"}}}
    ]}
  ]}
]},
{"spacing": 76, "align": "none", "hconcat": [
 {"spacing": 1, "vconcat": [
  {"width": 229, "height": 265, "title": {"text": "FLUID INTELLIGENCE", "dy": 32},
   "layer": [
    {"data": {"name": "b"},
     "transform": [
      {"density": "v", "groupby": ["c"], "bandwidth": 0.045, "steps": 120, "resolve": "independent", "as": ["v", "d"]},
      {"joinaggregate": [{"op": "max", "field": "d", "as": "dm"}], "groupby": ["c"]},
      {"calculate": "indexof(['RS','CS','CT','SV','LC'], datum.c) + 1", "as": "k"},
      {"calculate": "datum.k - 0.16", "as": "y0"},
      {"calculate": "datum.k - 0.16 - 0.3 * datum.d / datum.dm", "as": "y1"}
     ],
     "mark": {"type": "area", "orient": "vertical", "fillOpacity": 0.45},
     "encoding": {
      "x": {"field": "v", "type": "quantitative", "scale": {"domain": [-0.0508, 1.112], "nice": false, "zero": false}, "axis": {"title": "LASSO WEIGHTS", "values": [0, 0.25, 0.5, 0.75, 1], "labelExpr": "['0.0','0.25','0.5','0.75','1.0'][round(datum.value * 4)]"}},
      "y": {"field": "y1", "type": "quantitative", "scale": {"domain": [0.5, 5.5], "reverse": true, "nice": false, "zero": false}, "axis": {"title": "b.", "titleX": -114, "titleY": -5, "values": [1, 2, 3, 4, 5], "labelExpr": "[['RESTING-STATE','CONNECTIVITY'],['CORTICAL','SURFACE'],['CORTICAL','THICKNESS'],['SUBCORTICAL','VOLUME'],['LOCAL','CONNECTOME']][datum.value - 1]"}},
      "y2": {"field": "y0"},
      "color": {"field": "c", "type": "nominal", "scale": {"domain": ["RS", "CS", "CT", "SV", "LC"], "range": ["#ff0000", "#00ff00", "#00ff00", "#00ff00", "#0000ff"]}, "legend": null}
     }},
    {"data": {"name": "b"},
     "transform": [
      {"window": [{"op": "row_number", "as": "i"}], "groupby": ["c"]},
      {"calculate": "indexof(['RS','CS','CT','SV','LC'], datum.c) + 1 + 0.11 * (2 * ((datum.i * 0.618034) % 1) - 1)", "as": "yj"}
     ],
     "mark": {"type": "circle", "size": 6, "opacity": 0.7},
     "encoding": {
      "x": {"field": "v", "type": "quantitative"},
      "y": {"field": "yj", "type": "quantitative"},
      "color": {"field": "c", "type": "nominal", "legend": null}
     }},
    {"data": {"name": "box"},
     "transform": [
      {"filter": "datum.p == 'b'"},
      {"calculate": "indexof(['RS','CS','CT','SV','LC'], datum.c) + 1", "as": "k"},
      {"calculate": "datum.k - 0.07", "as": "t0"},
      {"calculate": "datum.k + 0.07", "as": "b0"},
      {"calculate": "datum.k - 0.035", "as": "t1"},
      {"calculate": "datum.k + 0.035", "as": "b1"}
     ],
     "layer": [
      {"mark": {"type": "rule", "color": "#333", "strokeWidth": 0.8}, "encoding": {"x": {"field": "lo", "type": "quantitative"}, "x2": {"field": "q1"}, "y": {"field": "k", "type": "quantitative"}}},
      {"mark": {"type": "rule", "color": "#333", "strokeWidth": 0.8}, "encoding": {"x": {"field": "q3", "type": "quantitative"}, "x2": {"field": "hi"}, "y": {"field": "k", "type": "quantitative"}}},
      {"mark": {"type": "rule", "color": "#333", "strokeWidth": 0.8}, "encoding": {"x": {"field": "q1", "type": "quantitative"}, "y": {"field": "t0", "type": "quantitative"}, "y2": {"field": "b0"}}},
      {"mark": {"type": "rule", "color": "#333", "strokeWidth": 0.8}, "encoding": {"x": {"field": "q3", "type": "quantitative"}, "y": {"field": "t0", "type": "quantitative"}, "y2": {"field": "b0"}}},
      {"mark": {"type": "rule", "color": "#333", "strokeWidth": 1}, "encoding": {"x": {"field": "md", "type": "quantitative"}, "y": {"field": "t1", "type": "quantitative"}, "y2": {"field": "b1"}}}
     ]},
    {"data": {"name": "box"},
     "transform": [
      {"filter": "datum.p == 'b'"},
      {"calculate": "indexof(['RS','CS','CT','SV','LC'], datum.c) + 1", "as": "k"},
      {"fold": ["q1", "nl", "md", "nu", "q3"], "as": ["key", "xv"]},
      {"calculate": "indexof(['q1','nl','md','nu','q3'], datum.key)", "as": "o"},
      {"calculate": "datum.k - (datum.key == 'md' ? 0.035 : 0.07)", "as": "yt"},
      {"calculate": "datum.k + (datum.key == 'md' ? 0.035 : 0.07)", "as": "yb"}
     ],
     "layer": [
      {"mark": {"type": "line", "color": "#333", "strokeWidth": 0.8}, "encoding": {"x": {"field": "xv", "type": "quantitative"}, "y": {"field": "yt", "type": "quantitative"}, "order": {"field": "o", "type": "quantitative"}, "detail": {"field": "c", "type": "nominal"}}},
      {"mark": {"type": "line", "color": "#333", "strokeWidth": 0.8}, "encoding": {"x": {"field": "xv", "type": "quantitative"}, "y": {"field": "yb", "type": "quantitative"}, "order": {"field": "o", "type": "quantitative"}, "detail": {"field": "c", "type": "nominal"}}}
     ]}
   ]},
  {"width": 229, "height": 265, "title": {"text": "IMPULSIVITY", "dy": 19},
   "layer": [
    {"data": {"name": "d"},
     "transform": [
      {"density": "v", "groupby": ["c"], "bandwidth": 0.045, "steps": 120, "resolve": "independent", "as": ["v", "d"]},
      {"joinaggregate": [{"op": "max", "field": "d", "as": "dm"}], "groupby": ["c"]},
      {"calculate": "indexof(['RS','CS','CT','SV','LC'], datum.c) + 1", "as": "k"},
      {"calculate": "datum.k - 0.16", "as": "y0"},
      {"calculate": "datum.k - 0.16 - 0.3 * datum.d / datum.dm", "as": "y1"}
     ],
     "mark": {"type": "area", "orient": "vertical", "fillOpacity": 0.45},
     "encoding": {
      "x": {"field": "v", "type": "quantitative", "scale": {"domain": [-0.05, 1.133], "nice": false, "zero": false}, "axis": {"title": "LASSO WEIGHTS", "values": [0, 0.25, 0.5, 0.75, 1], "labelExpr": "['0.0','0.25','0.5','0.75','1.0'][round(datum.value * 4)]"}},
      "y": {"field": "y1", "type": "quantitative", "scale": {"domain": [0.5, 5.5], "reverse": true, "nice": false, "zero": false}, "axis": {"title": "d.", "titleX": -114, "titleY": 8, "values": [1, 2, 3, 4, 5], "labelExpr": "[['RESTING-STATE','CONNECTIVITY'],['CORTICAL','SURFACE'],['CORTICAL','THICKNESS'],['SUBCORTICAL','VOLUME'],['LOCAL','CONNECTOME']][datum.value - 1]"}},
      "y2": {"field": "y0"},
      "color": {"field": "c", "type": "nominal", "scale": {"domain": ["RS", "CS", "CT", "SV", "LC"], "range": ["#ff0000", "#00ff00", "#00ff00", "#00ff00", "#0000ff"]}, "legend": null}
     }},
    {"data": {"name": "d"},
     "transform": [
      {"window": [{"op": "row_number", "as": "i"}], "groupby": ["c"]},
      {"calculate": "indexof(['RS','CS','CT','SV','LC'], datum.c) + 1 + 0.11 * (2 * ((datum.i * 0.618034) % 1) - 1)", "as": "yj"}
     ],
     "mark": {"type": "circle", "size": 6, "opacity": 0.7},
     "encoding": {
      "x": {"field": "v", "type": "quantitative"},
      "y": {"field": "yj", "type": "quantitative"},
      "color": {"field": "c", "type": "nominal", "legend": null}
     }},
    {"data": {"name": "box"},
     "transform": [
      {"filter": "datum.p == 'd'"},
      {"calculate": "indexof(['RS','CS','CT','SV','LC'], datum.c) + 1", "as": "k"},
      {"calculate": "datum.k - 0.07", "as": "t0"},
      {"calculate": "datum.k + 0.07", "as": "b0"},
      {"calculate": "datum.k - 0.035", "as": "t1"},
      {"calculate": "datum.k + 0.035", "as": "b1"}
     ],
     "layer": [
      {"mark": {"type": "rule", "color": "#333", "strokeWidth": 0.8}, "encoding": {"x": {"field": "lo", "type": "quantitative"}, "x2": {"field": "q1"}, "y": {"field": "k", "type": "quantitative"}}},
      {"mark": {"type": "rule", "color": "#333", "strokeWidth": 0.8}, "encoding": {"x": {"field": "q3", "type": "quantitative"}, "x2": {"field": "hi"}, "y": {"field": "k", "type": "quantitative"}}},
      {"mark": {"type": "rule", "color": "#333", "strokeWidth": 0.8}, "encoding": {"x": {"field": "q1", "type": "quantitative"}, "y": {"field": "t0", "type": "quantitative"}, "y2": {"field": "b0"}}},
      {"mark": {"type": "rule", "color": "#333", "strokeWidth": 0.8}, "encoding": {"x": {"field": "q3", "type": "quantitative"}, "y": {"field": "t0", "type": "quantitative"}, "y2": {"field": "b0"}}},
      {"mark": {"type": "rule", "color": "#333", "strokeWidth": 1}, "encoding": {"x": {"field": "md", "type": "quantitative"}, "y": {"field": "t1", "type": "quantitative"}, "y2": {"field": "b1"}}}
     ]},
    {"data": {"name": "box"},
     "transform": [
      {"filter": "datum.p == 'd'"},
      {"calculate": "indexof(['RS','CS','CT','SV','LC'], datum.c) + 1", "as": "k"},
      {"fold": ["q1", "nl", "md", "nu", "q3"], "as": ["key", "xv"]},
      {"calculate": "indexof(['q1','nl','md','nu','q3'], datum.key)", "as": "o"},
      {"calculate": "datum.k - (datum.key == 'md' ? 0.035 : 0.07)", "as": "yt"},
      {"calculate": "datum.k + (datum.key == 'md' ? 0.035 : 0.07)", "as": "yb"}
     ],
     "layer": [
      {"mark": {"type": "line", "color": "#333", "strokeWidth": 0.8}, "encoding": {"x": {"field": "xv", "type": "quantitative"}, "y": {"field": "yt", "type": "quantitative"}, "order": {"field": "o", "type": "quantitative"}, "detail": {"field": "c", "type": "nominal"}}},
      {"mark": {"type": "line", "color": "#333", "strokeWidth": 0.8}, "encoding": {"x": {"field": "xv", "type": "quantitative"}, "y": {"field": "yb", "type": "quantitative"}, "order": {"field": "o", "type": "quantitative"}, "detail": {"field": "c", "type": "nominal"}}}
     ]}
   ]}
 ]},
 {"spacing": 0, "vconcat": [
  {"width": 224, "height": 259, "title": {"text": "CRYSTALLIZED INTELLIGENCE", "dy": 25},
   "layer": [
    {"data": {"name": "c"},
     "transform": [
      {"density": "v", "groupby": ["c"], "bandwidth": 0.045, "steps": 120, "resolve": "independent", "as": ["v", "d"]},
      {"joinaggregate": [{"op": "max", "field": "d", "as": "dm"}], "groupby": ["c"]},
      {"calculate": "indexof(['RS','CS','CT','SV','LC'], datum.c) + 1", "as": "k"},
      {"calculate": "datum.k - 0.16", "as": "y0"},
      {"calculate": "datum.k - 0.16 - 0.3 * datum.d / datum.dm", "as": "y1"}
     ],
     "mark": {"type": "area", "orient": "vertical", "fillOpacity": 0.45},
     "encoding": {
      "x": {"field": "v", "type": "quantitative", "scale": {"domain": [-0.042, 1.0], "nice": false, "zero": false}, "axis": {"title": "LASSO WEIGHTS", "values": [0, 0.25, 0.5, 0.75, 1], "labelExpr": "['0.0','0.25','0.5','0.75','1.0'][round(datum.value * 4)]"}},
      "y": {"field": "y1", "type": "quantitative", "scale": {"domain": [0.5, 5.5], "reverse": true, "nice": false, "zero": false}, "axis": {"title": "c.", "titleX": -97, "titleY": 2, "values": [1, 2, 3, 4, 5], "labelExpr": "[['RESTING-STATE','CONNECTIVITY'],['CORTICAL','SURFACE'],['CORTICAL','THICKNESS'],['SUBCORTICAL','VOLUME'],['LOCAL','CONNECTOME']][datum.value - 1]"}},
      "y2": {"field": "y0"},
      "color": {"field": "c", "type": "nominal", "scale": {"domain": ["RS", "CS", "CT", "SV", "LC"], "range": ["#ff0000", "#00ff00", "#00ff00", "#00ff00", "#0000ff"]}, "legend": null}
     }},
    {"data": {"name": "c"},
     "transform": [
      {"window": [{"op": "row_number", "as": "i"}], "groupby": ["c"]},
      {"calculate": "indexof(['RS','CS','CT','SV','LC'], datum.c) + 1 + 0.11 * (2 * ((datum.i * 0.618034) % 1) - 1)", "as": "yj"}
     ],
     "mark": {"type": "circle", "size": 6, "opacity": 0.7},
     "encoding": {
      "x": {"field": "v", "type": "quantitative"},
      "y": {"field": "yj", "type": "quantitative"},
      "color": {"field": "c", "type": "nominal", "legend": null}
     }},
    {"data": {"name": "box"},
     "transform": [
      {"filter": "datum.p == 'c'"},
      {"calculate": "indexof(['RS','CS','CT','SV','LC'], datum.c) + 1", "as": "k"},
      {"calculate": "datum.k - 0.07", "as": "t0"},
      {"calculate": "datum.k + 0.07", "as": "b0"},
      {"calculate": "datum.k - 0.035", "as": "t1"},
      {"calculate": "datum.k + 0.035", "as": "b1"}
     ],
     "layer": [
      {"mark": {"type": "rule", "color": "#333", "strokeWidth": 0.8}, "encoding": {"x": {"field": "lo", "type": "quantitative"}, "x2": {"field": "q1"}, "y": {"field": "k", "type": "quantitative"}}},
      {"mark": {"type": "rule", "color": "#333", "strokeWidth": 0.8}, "encoding": {"x": {"field": "q3", "type": "quantitative"}, "x2": {"field": "hi"}, "y": {"field": "k", "type": "quantitative"}}},
      {"mark": {"type": "rule", "color": "#333", "strokeWidth": 0.8}, "encoding": {"x": {"field": "q1", "type": "quantitative"}, "y": {"field": "t0", "type": "quantitative"}, "y2": {"field": "b0"}}},
      {"mark": {"type": "rule", "color": "#333", "strokeWidth": 0.8}, "encoding": {"x": {"field": "q3", "type": "quantitative"}, "y": {"field": "t0", "type": "quantitative"}, "y2": {"field": "b0"}}},
      {"mark": {"type": "rule", "color": "#333", "strokeWidth": 1}, "encoding": {"x": {"field": "md", "type": "quantitative"}, "y": {"field": "t1", "type": "quantitative"}, "y2": {"field": "b1"}}}
     ]},
    {"data": {"name": "box"},
     "transform": [
      {"filter": "datum.p == 'c'"},
      {"calculate": "indexof(['RS','CS','CT','SV','LC'], datum.c) + 1", "as": "k"},
      {"fold": ["q1", "nl", "md", "nu", "q3"], "as": ["key", "xv"]},
      {"calculate": "indexof(['q1','nl','md','nu','q3'], datum.key)", "as": "o"},
      {"calculate": "datum.k - (datum.key == 'md' ? 0.035 : 0.07)", "as": "yt"},
      {"calculate": "datum.k + (datum.key == 'md' ? 0.035 : 0.07)", "as": "yb"}
     ],
     "layer": [
      {"mark": {"type": "line", "color": "#333", "strokeWidth": 0.8}, "encoding": {"x": {"field": "xv", "type": "quantitative"}, "y": {"field": "yt", "type": "quantitative"}, "order": {"field": "o", "type": "quantitative"}, "detail": {"field": "c", "type": "nominal"}}},
      {"mark": {"type": "line", "color": "#333", "strokeWidth": 0.8}, "encoding": {"x": {"field": "xv", "type": "quantitative"}, "y": {"field": "yb", "type": "quantitative"}, "order": {"field": "o", "type": "quantitative"}, "detail": {"field": "c", "type": "nominal"}}}
     ]}
   ]},
  {"width": 229, "height": 265, "title": {"text": "SPATIAL ORIENTATION", "dy": 15},
   "layer": [
    {"data": {"name": "e"},
     "transform": [
      {"density": "v", "groupby": ["c"], "bandwidth": 0.045, "steps": 120, "resolve": "independent", "as": ["v", "d"]},
      {"joinaggregate": [{"op": "max", "field": "d", "as": "dm"}], "groupby": ["c"]},
      {"calculate": "indexof(['RS','CS','CT','SV','LC'], datum.c) + 1", "as": "k"},
      {"calculate": "datum.k - 0.16", "as": "y0"},
      {"calculate": "datum.k - 0.16 - 0.3 * datum.d / datum.dm", "as": "y1"}
     ],
     "mark": {"type": "area", "orient": "vertical", "fillOpacity": 0.45},
     "encoding": {
      "x": {"field": "v", "type": "quantitative", "scale": {"domain": [-0.046, 1.046], "nice": false, "zero": false}, "axis": {"title": "LASSO WEIGHTS", "values": [0, 0.25, 0.5, 0.75, 1], "labelExpr": "['0.0','0.25','0.5','0.75','1.0'][round(datum.value * 4)]"}},
      "y": {"field": "y1", "type": "quantitative", "scale": {"domain": [0.5, 5.5], "reverse": true, "nice": false, "zero": false}, "axis": {"title": "e.", "titleX": -97, "titleY": 12, "values": [1, 2, 3, 4, 5], "labelExpr": "[['RESTING-STATE','CONNECTIVITY'],['CORTICAL','SURFACE'],['CORTICAL','THICKNESS'],['SUBCORTICAL','VOLUME'],['LOCAL','CONNECTOME']][datum.value - 1]"}},
      "y2": {"field": "y0"},
      "color": {"field": "c", "type": "nominal", "scale": {"domain": ["RS", "CS", "CT", "SV", "LC"], "range": ["#ff0000", "#00ff00", "#00ff00", "#00ff00", "#0000ff"]}, "legend": null}
     }},
    {"data": {"name": "e"},
     "transform": [
      {"window": [{"op": "row_number", "as": "i"}], "groupby": ["c"]},
      {"calculate": "indexof(['RS','CS','CT','SV','LC'], datum.c) + 1 + 0.11 * (2 * ((datum.i * 0.618034) % 1) - 1)", "as": "yj"}
     ],
     "mark": {"type": "circle", "size": 6, "opacity": 0.7},
     "encoding": {
      "x": {"field": "v", "type": "quantitative"},
      "y": {"field": "yj", "type": "quantitative"},
      "color": {"field": "c", "type": "nominal", "legend": null}
     }},
    {"data": {"name": "box"},
     "transform": [
      {"filter": "datum.p == 'e'"},
      {"calculate": "indexof(['RS','CS','CT','SV','LC'], datum.c) + 1", "as": "k"},
      {"calculate": "datum.k - 0.07", "as": "t0"},
      {"calculate": "datum.k + 0.07", "as": "b0"},
      {"calculate": "datum.k - 0.035", "as": "t1"},
      {"calculate": "datum.k + 0.035", "as": "b1"}
     ],
     "layer": [
      {"mark": {"type": "rule", "color": "#333", "strokeWidth": 0.8}, "encoding": {"x": {"field": "lo", "type": "quantitative"}, "x2": {"field": "q1"}, "y": {"field": "k", "type": "quantitative"}}},
      {"mark": {"type": "rule", "color": "#333", "strokeWidth": 0.8}, "encoding": {"x": {"field": "q3", "type": "quantitative"}, "x2": {"field": "hi"}, "y": {"field": "k", "type": "quantitative"}}},
      {"mark": {"type": "rule", "color": "#333", "strokeWidth": 0.8}, "encoding": {"x": {"field": "q1", "type": "quantitative"}, "y": {"field": "t0", "type": "quantitative"}, "y2": {"field": "b0"}}},
      {"mark": {"type": "rule", "color": "#333", "strokeWidth": 0.8}, "encoding": {"x": {"field": "q3", "type": "quantitative"}, "y": {"field": "t0", "type": "quantitative"}, "y2": {"field": "b0"}}},
      {"mark": {"type": "rule", "color": "#333", "strokeWidth": 1}, "encoding": {"x": {"field": "md", "type": "quantitative"}, "y": {"field": "t1", "type": "quantitative"}, "y2": {"field": "b1"}}}
     ]},
    {"data": {"name": "box"},
     "transform": [
      {"filter": "datum.p == 'e'"},
      {"calculate": "indexof(['RS','CS','CT','SV','LC'], datum.c) + 1", "as": "k"},
      {"fold": ["q1", "nl", "md", "nu", "q3"], "as": ["key", "xv"]},
      {"calculate": "indexof(['q1','nl','md','nu','q3'], datum.key)", "as": "o"},
      {"calculate": "datum.k - (datum.key == 'md' ? 0.035 : 0.07)", "as": "yt"},
      {"calculate": "datum.k + (datum.key == 'md' ? 0.035 : 0.07)", "as": "yb"}
     ],
     "layer": [
      {"mark": {"type": "line", "color": "#333", "strokeWidth": 0.8}, "encoding": {"x": {"field": "xv", "type": "quantitative"}, "y": {"field": "yt", "type": "quantitative"}, "order": {"field": "o", "type": "quantitative"}, "detail": {"field": "c", "type": "nominal"}}},
      {"mark": {"type": "line", "color": "#333", "strokeWidth": 0.8}, "encoding": {"x": {"field": "xv", "type": "quantitative"}, "y": {"field": "yb", "type": "quantitative"}, "order": {"field": "o", "type": "quantitative"}, "detail": {"field": "c", "type": "nominal"}}}
     ]}
   ]}
 ]}
]}
]
}
